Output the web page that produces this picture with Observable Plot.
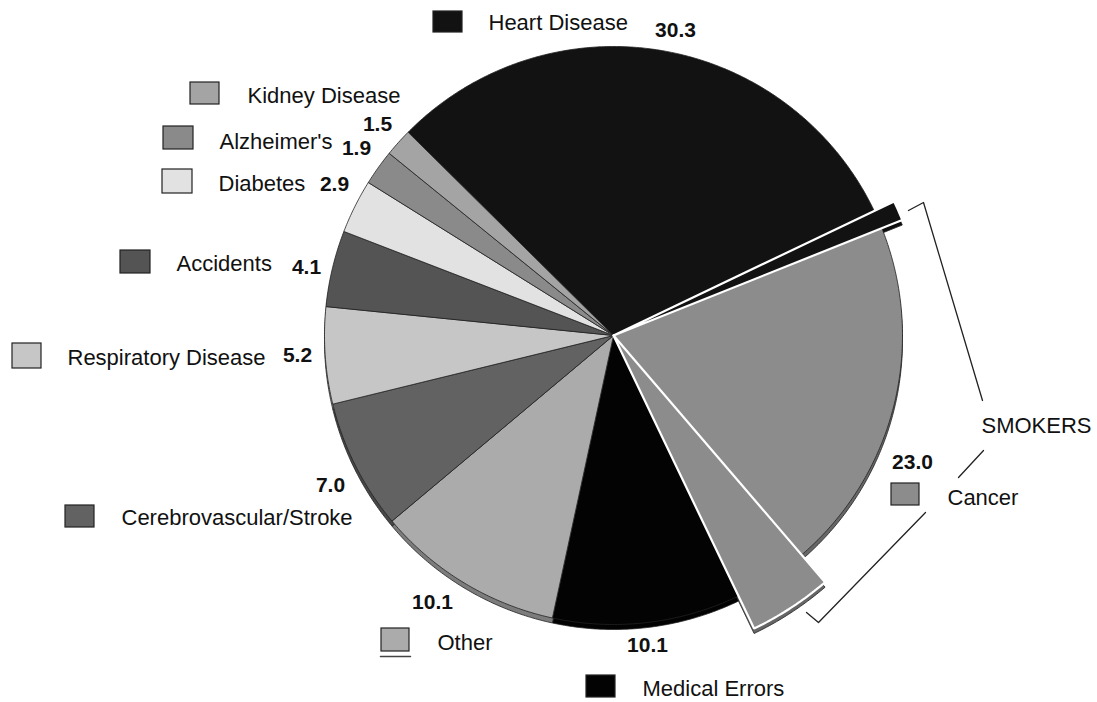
<!DOCTYPE html>
<html><head><meta charset="utf-8">
<script src="https://cdn.jsdelivr.net/npm/d3@7"></script>
<script src="https://cdn.jsdelivr.net/npm/@observablehq/plot@0.6"></script>
<style>body{margin:0;background:#fff} svg{display:block}</style>
</head><body><div id="chart"></div>
<script>
// ---------- data ----------
const categories = ["Heart Disease","Cancer","Medical Errors","Other","Cerebrovascular/Stroke","Respiratory Disease","Accidents","Diabetes","Alzheimer's","Kidney Disease"];
const values = [30.3, 23.0, 10.1, 10.1, 7.0, 5.2, 4.1, 2.9, 1.9, 1.5];
// part of each value attributed to smokers (drawn as exploded wedge)
const smokerPart = [1.0, 4.0, 0, 0, 0, 0, 0, 0, 0, 0];
const valueLabels = ["30.3","23.0","10.1","10.1","7.0","5.2","4.1","2.9","1.9","1.5"];
const annotation = "SMOKERS";

// ---------- styles / layout ----------
const colors = ["#121212","#8c8c8c","#030303","#ababab","#626262","#c6c6c6","#545454","#e2e2e2","#8a8a8a","#a4a4a4"];
const W = 1097, H = 702;
const cx = 613, cy = 335, R = 289;
const startDeg = -45.3;
const explode = {"Heart Disease": 22, "Cancer": 36};
// legend: swatch box [x1,y1,x2,y2], text anchor [x,y]
const legendLayout = {
  "Heart Disease": {s:[433,11,462,32], t:[488,22]},
  "Kidney Disease": {s:[190,82,219,104], t:[247,95]},
  "Alzheimer's": {s:[163,126,193,149], t:[219,141]},
  "Diabetes": {s:[162,169,192,193], t:[218,183]},
  "Accidents": {s:[120,250,150,273], t:[176,263]},
  "Respiratory Disease": {s:[12,343,41,368], t:[67,357]},
  "Cerebrovascular/Stroke": {s:[65,505,94,527], t:[121,517]},
  "Other": {s:[381,628,409,651], t:[437,642]},
  "Medical Errors": {s:[586,675,615,697], t:[642,688]},
  "Cancer": {s:[891,483,919,505], t:[947,497]}
};
const valueLayout = {
  "Heart Disease": [675,30], "Cancer": [912,462], "Medical Errors": [647,645],
  "Other": [432,602], "Cerebrovascular/Stroke": [330,485], "Respiratory Disease": [297,355],
  "Accidents": [306,267], "Diabetes": [334,184], "Alzheimer's": [356,148], "Kidney Disease": [377,124]
};
const smokersText = [981,425];
const bracketLines = [
  [[908,210],[923,202],[982,400]],
  [[983,450],[958,477]],
  [[925,512],[818,622],[806,612]]
];

// ---------- build pieces ----------
const pieces = [];
categories.forEach((c, i) => {
  const s = smokerPart[i];
  pieces.push({cat: c, part: "main", value: values[i] - s, color: colors[i]});
  if (s > 0) pieces.push({cat: c, part: "smokers", value: s, color: colors[i]});
});
const st = startDeg * Math.PI / 180;
const arcs = d3.pie().sort(null).value(d => d.value).startAngle(st).endAngle(st + 2 * Math.PI)(pieces);

function polygon(a, dy) {
  const p = a.data;
  const r = R + (p.part === "smokers" ? explode[p.cat] : 0);
  const ox = cx, oy = cy + dy;
  const pts = [{x: ox, y: oy}];
  const n = Math.max(2, Math.ceil((a.endAngle - a.startAngle) / (0.5 * Math.PI / 180)));
  for (let k = 0; k <= n; k++) {
    const t = a.startAngle + (a.endAngle - a.startAngle) * k / n;
    pts.push({x: ox + r * Math.sin(t), y: oy - r * Math.cos(t)});
  }
  pts.push({x: ox, y: oy});
  return pts;
}

const marks = [];
// depth layer (3D rim)
arcs.forEach(a => {
  marks.push(Plot.line(polygon(a, 5), {x: "x", y: "y", fill: d3.color(a.data.color).darker(0.9).formatHex(), stroke: "#222", strokeWidth: 0.8}));
});
// top layer: main slices first, exploded smokers wedges on top
[...arcs].sort((a, b) => (a.data.part === "smokers") - (b.data.part === "smokers")).forEach(a => {
  const ex = a.data.part === "smokers";
  marks.push(Plot.line(polygon(a, 0), {x: "x", y: "y", fill: a.data.color,
    stroke: ex ? "#fff" : "#222", strokeWidth: ex ? 2.2 : 0.8, strokeLinejoin: "miter"}));
});
// brackets
bracketLines.forEach(l => marks.push(Plot.line(l.map(([x, y]) => ({x, y})), {x: "x", y: "y", stroke: "#222", strokeWidth: 1.3})));

// legend
const legendRows = categories.map((c, i) => ({cat: c, color: colors[i], ...legendLayout[c]}));
marks.push(Plot.rect(legendRows, {x1: d => d.s[0], y1: d => d.s[1], x2: d => d.s[2], y2: d => d.s[3], fill: "color", stroke: "#222", strokeWidth: 1.2}));
marks.push(Plot.line([{x:380,y:656},{x:410,y:656}], {x:"x", y:"y", stroke:"#444", strokeWidth:1.5}));
marks.push(Plot.text(legendRows, {x: d => d.t[0], y: d => d.t[1], text: "cat", textAnchor: "start", fontSize: 22, fill: "#111"}));
// values
const valueRows = categories.map((c, i) => ({label: valueLabels[i], x: valueLayout[c][0], y: valueLayout[c][1]}));
marks.push(Plot.text(valueRows, {x: "x", y: "y", text: "label", fontSize: 21, fontWeight: "bold", fill: "#111"}));
marks.push(Plot.text([annotation], {x: smokersText[0], y: smokersText[1], text: d => d, textAnchor: "start", fontSize: 22, fill: "#111"}));

const chart = Plot.plot({
  width: W, height: H, margin: 0,
  x: {domain: [0, W], range: [0, W], axis: null},
  y: {domain: [0, H], range: [0, H], axis: null},
  style: {fontFamily: "'Liberation Sans', Arial, sans-serif", background: "#fff"},
  marks
});
document.getElementById("chart").appendChild(chart);
</script>
</body></html>
